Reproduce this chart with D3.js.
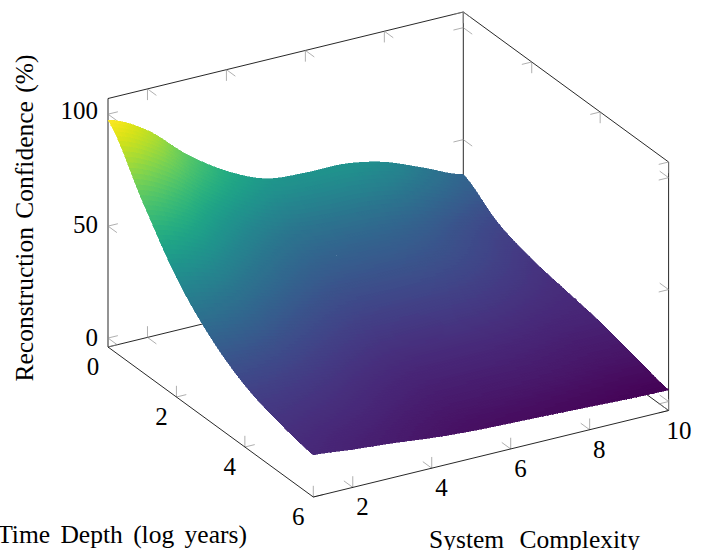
<!DOCTYPE html>
<html>
<head>
<meta charset="utf-8">
<script src="https://cdn.jsdelivr.net/npm/d3@7"></script>
<style>
  html, body { margin: 0; padding: 0; background: #fff; overflow: hidden; }
  svg { display: block; }
  text { font-family: "Liberation Serif", serif; fill: #000; }
</style>
</head>
<body>
<div id="chart"></div>
<script>
// values
const complexity = [1, 2, 3, 4, 5, 6, 7, 8, 9, 10];
const timeDepth = [0, 1, 2, 3, 4, 5, 6];
const confidence0 = [97.4, 88.4, 73.4, 61.7, 54.0, 52.3, 52.0, 48.5, 41.6, 34.5];
const confidence1 = [72.6, 65.0, 53.6, 44.5, 38.8, 36.9, 36.0, 33.3, 28.5, 24.2];
const confidence2 = [49.5, 45.2, 38.3, 32.5, 28.8, 27.9, 27.6, 25.9, 22.8, 19.0];
const confidence3 = [33.8, 31.2, 27.2, 23.5, 21.1, 20.6, 20.7, 19.7, 17.8, 16.0];
const confidence4 = [23.6, 22.0, 19.7, 17.2, 15.5, 15.2, 15.2, 14.6, 13.5, 13.2];
const confidence5 = [18.1, 16.6, 15.0, 13.0, 11.6, 11.3, 11.1, 10.5, 9.6, 9.2];
const confidence6 = [14.8, 13.0, 11.5, 9.6, 8.3, 7.6, 7.0, 6.3, 5.6, 5.2];
const rows = [confidence0, confidence1, confidence2, confidence3, confidence4, confidence5, confidence6];

const xTicks = [2, 4, 6, 8, 10];
const yTicks = [0, 2, 4, 6];
const zTicks = [0, 50, 100];
const xDomain = [1, 10];
const yDomain = [0, 6];
const zDomain = [-4, 107];

const W = 706, H = 550;
const svg = d3.select('#chart').append('svg').attr('width', W).attr('height', H);

// oblique projection, each data axis has its own screen vector
const xToPx = d3.scaleLinear().domain(xDomain).range([108, 463.3]);
const yToPx = d3.scaleLinear().domain(yDomain).range([0, 205.3]);
const xToPy = d3.scaleLinear().domain(xDomain).range([347, 260.5]);
const yToPy = d3.scaleLinear().domain(yDomain).range([0, 150]);
const zToPy = d3.scaleLinear().domain(zDomain).range([0, -248.5]);
const color = d3.scaleSequential(d3.interpolateViridis).domain([4.5, 97.4]);

const px = (x, y) => xToPx(x) + yToPx(y);
const py = (x, y, z) => xToPy(x) + yToPy(y) + zToPy(z);

const [x0, x1] = xDomain, [y0, y1] = yDomain, [z0, z1] = zDomain;

function edge(g, a, b) {
  g.append('line')
    .attr('x1', px(a[0], a[1])).attr('y1', py(a[0], a[1], a[2]))
    .attr('x2', px(b[0], b[1])).attr('y2', py(b[0], b[1], b[2]))
    .attr('stroke', '#000').attr('stroke-width', 0.85);
}

// tick = two short strokes from a point on the box edge, offsets in data units
const dX = 0.25, dY = 0.26, dZ = 5;
function tick(g, p, d1, d2) {
  for (const d of [d1, d2]) {
    g.append('line')
      .attr('x1', px(p[0], p[1])).attr('y1', py(p[0], p[1], p[2]))
      .attr('x2', px(p[0] + d[0], p[1] + d[1])).attr('y2', py(p[0] + d[0], p[1] + d[1], p[2] + d[2]))
      .attr('stroke', '#8c8c8c').attr('stroke-width', 0.7);
  }
}

const back = svg.append('g');
edge(back, [x0, y0, z1], [x1, y0, z1]);
edge(back, [x1, y0, z1], [x1, y1, z1]);
edge(back, [x0, y0, z0], [x0, y0, z1]);
edge(back, [x1, y0, z0], [x1, y0, z1]);
edge(back, [x1, y1, z0], [x1, y1, z1]);
edge(back, [x0, y0, z0], [x1, y0, z0]);
edge(back, [x1, y0, z0], [x1, y1, z0]);

xTicks.forEach(t => {
  tick(back, [t, y0, z1], [0, 0, -dZ], [0, dY, 0]);
  tick(back, [t, y0, z0], [0, 0, dZ], [0, dY, 0]);
});
yTicks.forEach(t => {
  tick(back, [x1, t, z1], [0, 0, -dZ], [-dX, 0, 0]);
  tick(back, [x1, t, z0], [0, 0, dZ], [-dX, 0, 0]);
});
zTicks.forEach(t => {
  tick(back, [x0, y0, t], [dX, 0, 0], [0, dY, 0]);
  tick(back, [x1, y0, t], [-dX, 0, 0], [0, dY, 0]);
  tick(back, [x1, y1, t], [-dX, 0, 0], [0, -dY, 0]);
});

// smooth the grid for drawing only
function catmull(a, t) {
  const n = a.length - 1;
  const i = Math.min(Math.floor(t), n - 1), f = t - i;
  const p0 = a[Math.max(i - 1, 0)], p1 = a[i], p2 = a[i + 1], p3 = a[Math.min(i + 2, n)];
  return 0.5 * (2 * p1 + (p2 - p0) * f + (2 * p0 - 5 * p1 + 4 * p2 - p3) * f * f + (3 * p1 - p0 - 3 * p2 + p3) * f * f * f);
}
function surfaceAt(ix, iy) {
  return catmull(rows.map(r => catmull(r, ix)), iy);
}

const sub = 16;
const cells = [];
for (let i = (complexity.length - 1) * sub - 1; i >= 0; i--) {
  for (let j = 0; j < (timeDepth.length - 1) * sub; j++) {
    cells.push([i, j]);
  }
}
const xAt = d3.scaleLinear().domain([0, complexity.length - 1]).range(xDomain);
const yAt = d3.scaleLinear().domain([0, timeDepth.length - 1]).range(yDomain);

svg.append('g').attr('shape-rendering', 'crispEdges').selectAll('path')
  .data(cells)
  .join('path')
  .attr('d', ([i, j]) => {
    const corners = [[i, j], [i + 1, j], [i + 1, j + 1], [i, j + 1]].map(([a, b]) => {
      const ix = a / sub, iy = b / sub;
      return [px(xAt(ix), yAt(iy)), py(xAt(ix), yAt(iy), surfaceAt(ix, iy))];
    });
    return d3.line()(corners) + 'Z';
  })
  .each(function ([i, j]) {
    const c = color(surfaceAt((i + 0.5) / sub, (j + 0.5) / sub));
    d3.select(this).attr('fill', c).attr('stroke', c).attr('stroke-width', 0.6);
  });

const front = svg.append('g');
xTicks.forEach(t => tick(front, [t, y1, z0], [0, 0, dZ], [0, -dY, 0]));
yTicks.forEach(t => tick(front, [x0, t, z0], [0, 0, dZ], [dX, 0, 0]));
edge(front, [x0, y0, z0], [x0, y1, z0]);
edge(front, [x0, y1, z0], [x1, y1, z0]);

const zLabelY = d3.scaleLinear().domain([0, 100]).range([346, 119.4]);
const labels = svg.append('g').attr('font-size', 25).attr('text-anchor', 'middle');
zTicks.forEach(t => {
  labels.append('text').attr('text-anchor', 'end')
    .attr('x', 98).attr('y', zLabelY(t)).text(t);
});
yTicks.forEach(t => {
  labels.append('text')
    .attr('x', px(x0, t) - 15).attr('y', py(x0, t, z0) + 28).text(t);
});
xTicks.forEach(t => {
  labels.append('text')
    .attr('x', px(t, y1) + (t === 10 ? 10.5 : 9.7)).attr('y', py(t, y1, z0) + 28).text(t);
});

svg.append('text').attr('font-size', 25.5).attr('text-anchor', 'middle')
  .attr('transform', 'translate(33,218) rotate(-90)')
  .attr('word-spacing', 2)
  .text('Reconstruction Confidence (%)');
svg.append('text').attr('font-size', 25.5).attr('text-anchor', 'middle')
  .attr('x', 122).attr('y', 543).attr('word-spacing', 4)
  .text('Time Depth (log years)');
svg.append('text').attr('font-size', 25.5).attr('text-anchor', 'middle')
  .attr('x', 534.5).attr('y', 548).attr('word-spacing', 9)
  .text('System Complexity');
</script>
</body>
</html>
